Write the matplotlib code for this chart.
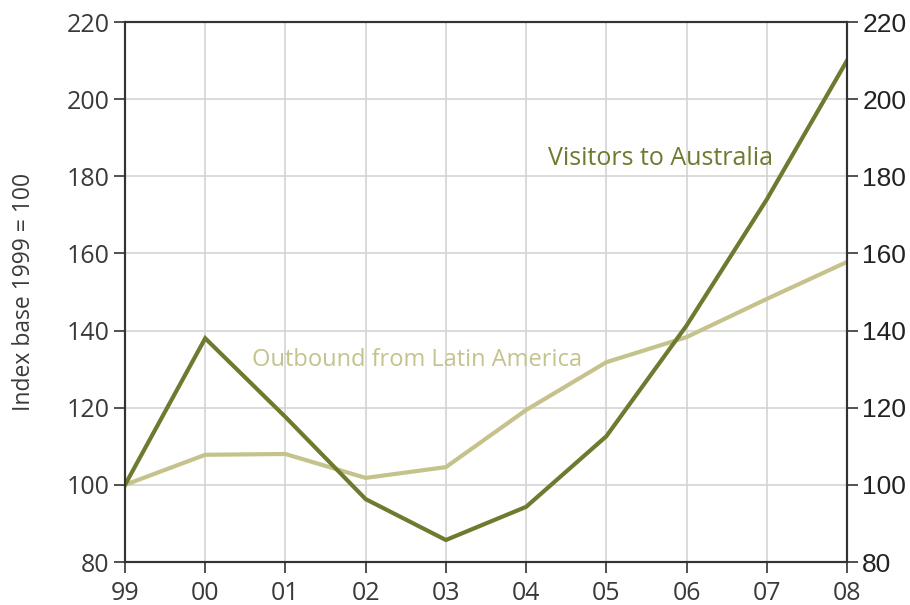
import matplotlib.pyplot as plt

# Index series, 1999 = 100
years = ['99', '00', '01', '02', '03', '04', '05', '06', '07', '08']
visitors_australia = [100, 138, 117.6, 96.3, 85.7, 94.3, 112.6, 141.3, 174, 210]
outbound_latam = [100, 107.8, 108, 101.8, 104.6, 119.4, 131.8, 138.3, 148.2, 157.8]

dark_olive = '#6e7a2f'
light_olive = '#c5c28c'
axis_col = '#333333'

plt.rcParams['font.family'] = ['Open Sans', 'DejaVu Sans']

fig = plt.figure(figsize=(9.1, 6.05), dpi=100)
ax = fig.add_axes([125 / 910, 43 / 605, 722 / 910, 540 / 605])

x = list(range(len(years)))
ax.plot(x, outbound_latam, color=light_olive, lw=3, zorder=3, solid_joinstyle='miter')
ax.plot(x, visitors_australia, color=dark_olive, lw=3, zorder=4, solid_joinstyle='miter')

ax.set_xlim(0, len(years) - 1)
ax.set_ylim(80, 220)
ax.set_xticks(x)
ax.set_xticklabels(years)
ax.set_yticks(range(80, 221, 20))
ax.grid(True, color='#d4d4d4', lw=1.2)
ax.set_axisbelow(True)

for side in ['left', 'right', 'top', 'bottom']:
    ax.spines[side].set_color(axis_col)
    ax.spines[side].set_linewidth(1.5)

ax.tick_params(axis='both', direction='out', length=8, width=1.2, color=axis_col,
               labelsize=18, labelcolor='#3a3a3a')
ax.tick_params(axis='x', pad=6)
ax.tick_params(axis='y', pad=3)
ax.set_ylabel('Index base 1999 = 100', fontsize=16.5, color='#3a3a3a', labelpad=22)

# duplicate scale on the right
ax2 = ax.twinx()
ax2.set_ylim(80, 220)
ax2.set_yticks(range(80, 221, 20))
ax2.tick_params(axis='y', direction='out', length=8, width=1.2, color=axis_col,
                labelsize=19, labelcolor='#222222', pad=3)
for lab in ax2.get_yticklabels():
    lab.set_family('Liberation Sans')
for side in ['left', 'right', 'top', 'bottom']:
    ax2.spines[side].set_color(axis_col)
    ax2.spines[side].set_linewidth(1.5)

ax.text(6.67, 184.7, 'Visitors to Australia', color=dark_olive, fontsize=18,
        ha='center', va='center')
ax.text(3.64, 132.4, 'Outbound from Latin America', color=light_olive, fontsize=17,
        ha='center', va='center')

fig.savefig('out.png', dpi=100)
